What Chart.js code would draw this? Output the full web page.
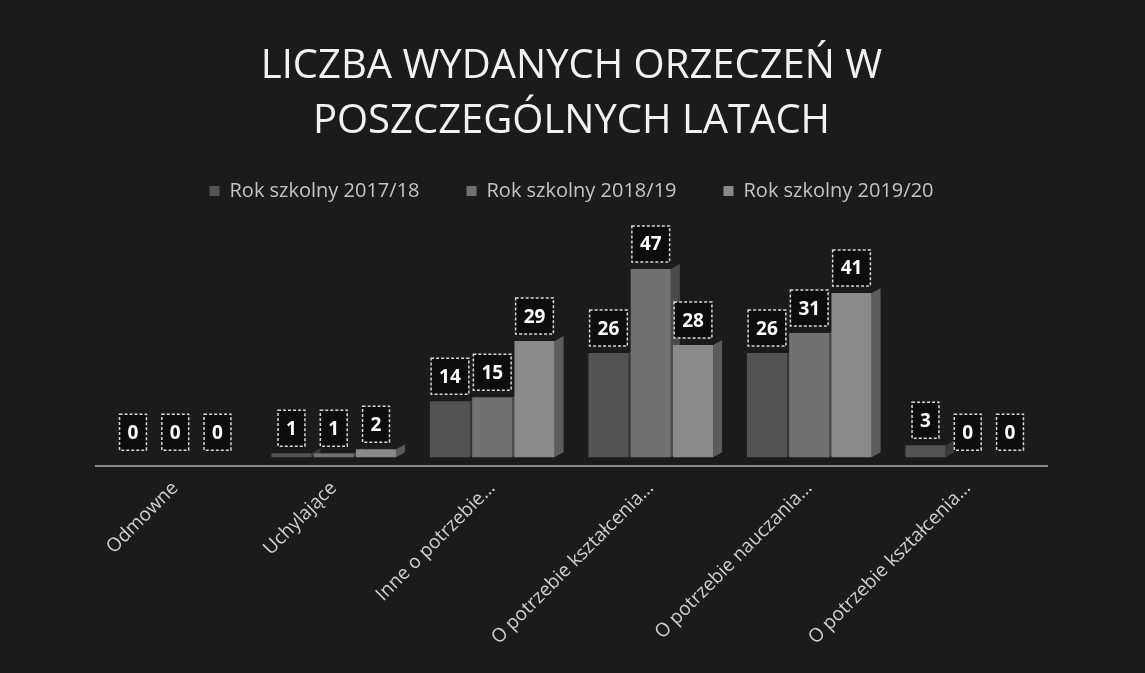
<!DOCTYPE html>
<html lang="pl">
<head>
<meta charset="utf-8">
<title>Liczba wydanych orzeczeń</title>
<script src="https://cdn.jsdelivr.net/npm/chart.js@4.4.1/dist/chart.umd.min.js"></script>
<style>
    html, body { margin: 0; padding: 0; background: #1b1b1b; }
    #wrap { width: 1145px; height: 673px; }
</style>
</head>
<body>
<div id="wrap"><canvas id="orzeczeniaChart" width="1145" height="673"></canvas></div>
<script>
const categories = [
    'Odmowne',
    'Uchylające',
    'Inne o potrzebie…',
    'O potrzebie kształcenia…',
    'O potrzebie nauczania…',
    'O potrzebie kształcenia…'
];
const seriesNames = ['Rok szkolny 2017/18', 'Rok szkolny 2018/19', 'Rok szkolny 2019/20'];
const values2017 = [0, 1, 14, 26, 26, 3];
const values2018 = [0, 1, 15, 47, 31, 0];
const values2019 = [0, 2, 29, 28, 41, 0];
const titleLines = ['LICZBA WYDANYCH ORZECZEŃ W', 'POSZCZEGÓLNYCH LATACH'];

const barColors = ['#535353', '#717171', '#8a8a8a'];
const sideColors = ['#383838', '#4b4b4b', '#5c5c5c'];

// dark page background
const background = {
    id: 'background',
    beforeDraw(chart) {
        const ctx = chart.ctx;
        ctx.save();
        ctx.fillStyle = '#1b1b1b';
        ctx.fillRect(0, 0, chart.width, chart.height);
        ctx.restore();
    }
};

// fake 3D side of each bar
const barSides = {
    id: 'barSides',
    beforeDatasetsDraw(chart) {
        const ctx = chart.ctx;
        ctx.save();
        chart.data.datasets.forEach((ds, i) => {
            chart.getDatasetMeta(i).data.forEach(bar => {
                const right = bar.x + bar.width / 2;
                const depth = 9;
                ctx.fillStyle = sideColors[i];
                ctx.beginPath();
                ctx.moveTo(right, bar.y);
                ctx.lineTo(right + depth, bar.y - 5);
                ctx.lineTo(right + depth, bar.base - 5);
                ctx.lineTo(right, bar.base);
                ctx.closePath();
                ctx.fill();
            });
        });
        ctx.restore();
    }
};

// boxed value labels above the bars
const valueBoxes = {
    id: 'valueBoxes',
    afterDatasetsDraw(chart) {
        const ctx = chart.ctx;
        ctx.save();
        ctx.font = 'bold 19px "Open Sans"';
        ctx.textAlign = 'center';
        ctx.textBaseline = 'middle';
        chart.data.datasets.forEach((ds, i) => {
            chart.getDatasetMeta(i).data.forEach((bar, j) => {
                const text = String(ds.data[j]);
                const w = ctx.measureText(text).width + 16;
                const h = 36;
                const x = bar.x - w / 2;
                const y = bar.y - 7 - h;
                ctx.fillStyle = '#0d0d0d';
                ctx.fillRect(x, y, w, h);
                ctx.strokeStyle = '#d8d8d8';
                ctx.lineWidth = 1.5;
                ctx.setLineDash([3, 2]);
                ctx.strokeRect(x, y, w, h);
                ctx.setLineDash([]);
                ctx.fillStyle = '#ffffff';
                ctx.fillText(text, bar.x, y + h / 2 + 1);
            });
        });
        ctx.restore();
    }
};

const ctx = document.getElementById('orzeczeniaChart').getContext('2d');
new Chart(ctx, {
    type: 'bar',
    data: {
        labels: categories,
        datasets: [
            { label: seriesNames[0], data: values2017, backgroundColor: barColors[0] },
            { label: seriesNames[1], data: values2018, backgroundColor: barColors[1] },
            { label: seriesNames[2], data: values2019, backgroundColor: barColors[2] }
        ]
    },
    options: {
        responsive: false,
        animation: false,
        categoryPercentage: 0.8,
        barPercentage: 0.95,
        layout: {
            padding: { left: 96, right: 98, top: 0, bottom: 0 }
        },
        plugins: {
            title: {
                display: true,
                text: titleLines,
                color: '#f2f2f2',
                font: { family: '"Open Sans"', size: 40, weight: 'normal', lineHeight: 1.375 },
                padding: { top: 39, bottom: -15 }
            },
            legend: {
                display: true,
                position: 'top',
                labels: {
                    color: '#c4c4c4',
                    font: { family: '"Open Sans"', size: 20 },
                    boxWidth: 10,
                    boxHeight: 10,
                    padding: 47
                }
            },
            tooltip: { enabled: false }
        },
        scales: {
            x: {
                grid: { display: false },
                border: { display: true, color: '#8a8a8a', width: 2 },
                ticks: {
                    color: '#d0d0d0',
                    font: { family: '"Open Sans"', size: 19 },
                    maxRotation: 45,
                    minRotation: 45,
                    autoSkip: false
                },
                afterFit(scale) {
                    scale.height = 207;
                }
            },
            y: {
                display: false,
                min: -2.2,
                max: 61.5
            }
        }
    },
    plugins: [background, barSides, valueBoxes]
});
</script>
</body>
</html>
